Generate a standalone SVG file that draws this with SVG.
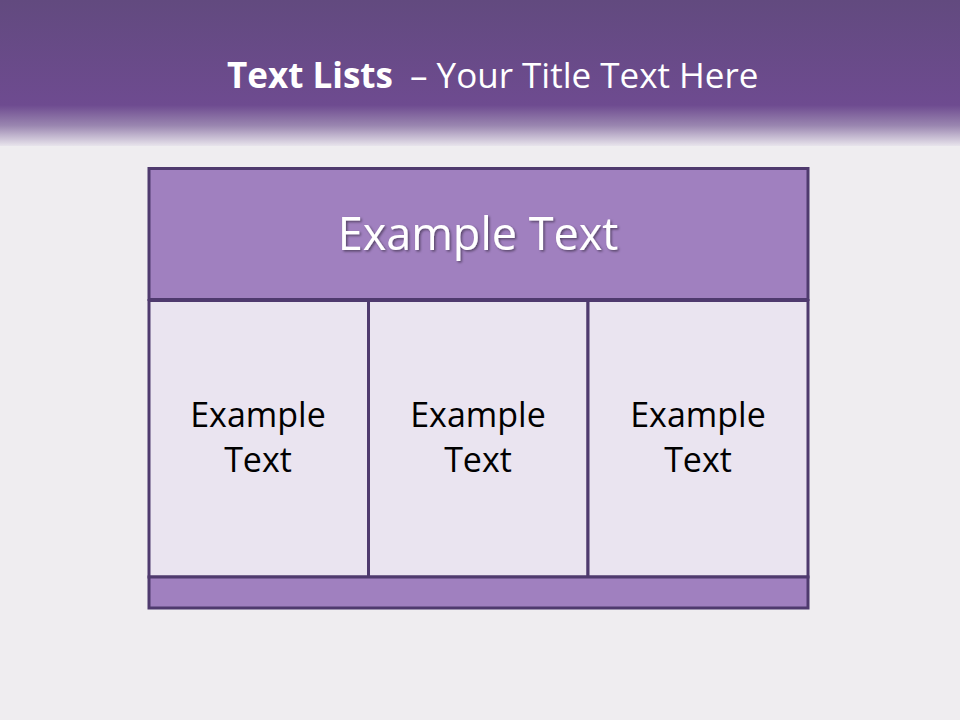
<svg xmlns="http://www.w3.org/2000/svg" width="960" height="720" viewBox="0 0 960 720">
<defs>
<linearGradient id="hdr" x1="0" y1="0" x2="0" y2="1">
<stop offset="0" stop-color="#624A7F"/>
<stop offset="0.72" stop-color="#6E4B90"/>
<stop offset="0.86" stop-color="#9A86B0"/>
<stop offset="1" stop-color="#E8E4EC"/>
</linearGradient>
<filter id="sh" x="-10%" y="-30%" width="120%" height="160%">
<feDropShadow dx="1.5" dy="1.5" stdDeviation="1" flood-color="#000" flood-opacity="0.45"/>
</filter>
<style>
.box{stroke:#4F3A6E;stroke-width:3}
.top{fill:#A080BF}
.cell{fill:#EAE4F0}
.ct{font-family:"Open Sans","Noto Sans",sans-serif;font-size:34px;fill:#000;text-anchor:middle}
</style>
</defs>
<rect width="960" height="720" fill="#EFEDF0"/>
<rect width="960" height="146" fill="url(#hdr)"/>
<g id="title" font-family="Open Sans,Noto Sans,sans-serif" fill="#fff">
<text x="227" y="88" font-size="35" font-weight="bold">Text Lists</text>
<text x="410" y="88" font-size="35">– Your Title Text Here</text>
</g>
<g id="header-box">
<rect class="box top" x="149" y="168.5" width="659" height="131"/>
<text x="478" y="250" font-family="Open Sans,Noto Sans,sans-serif" font-size="45" fill="#fff" text-anchor="middle" filter="url(#sh)">Example Text</text>
</g>
<g id="cell1">
<rect class="box cell" x="149" y="300.5" width="219.5" height="276.5"/>
<text class="ct" x="258" y="427">Example</text>
<text class="ct" x="258" y="472">Text</text>
</g>
<g id="cell2">
<rect class="box cell" x="368.5" y="300.5" width="219.5" height="276.5"/>
<text class="ct" x="478" y="427">Example</text>
<text class="ct" x="478" y="472">Text</text>
</g>
<g id="cell3">
<rect class="box cell" x="588" y="300.5" width="220" height="276.5"/>
<text class="ct" x="698" y="427">Example</text>
<text class="ct" x="698" y="472">Text</text>
</g>
<g id="footer-bar">
<rect class="box top" x="149" y="577" width="659" height="31"/>
</g>
<g id="connectors"/>
</svg>
